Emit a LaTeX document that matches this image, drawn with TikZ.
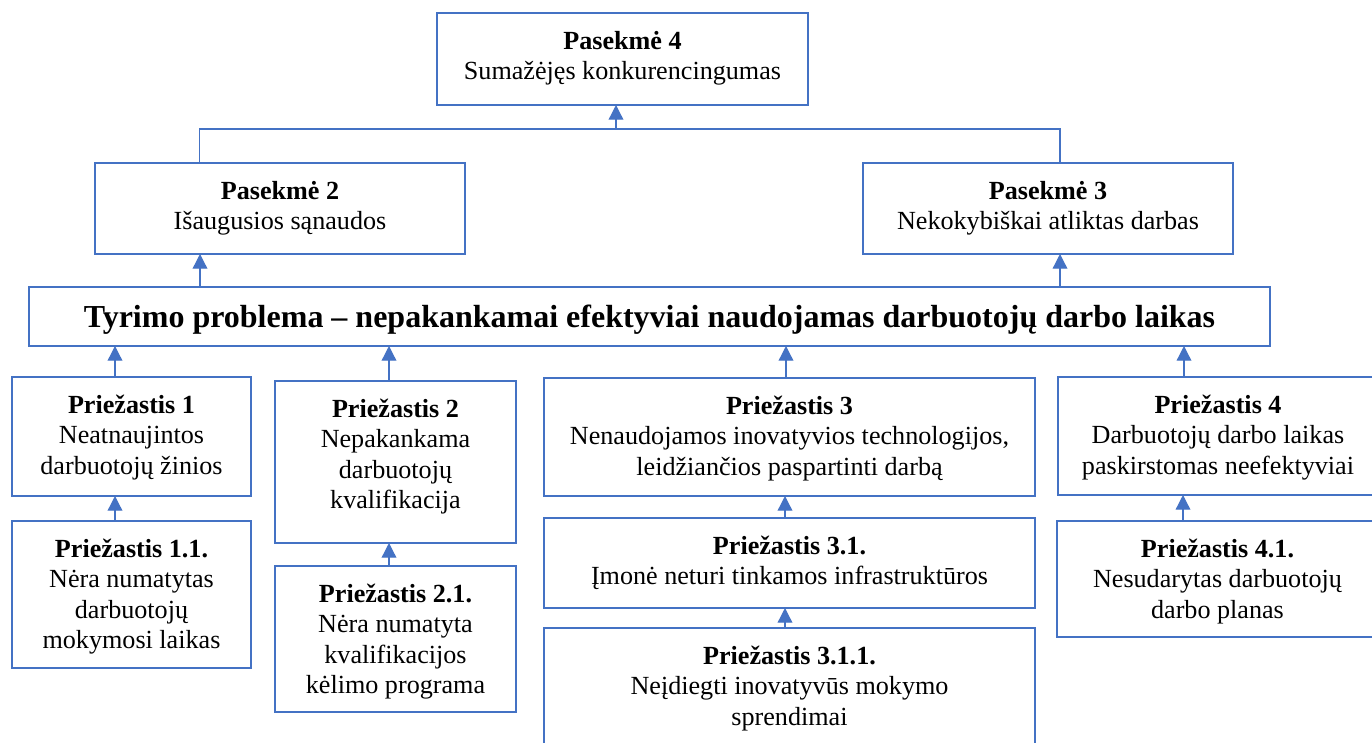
\documentclass[tikz,border=0pt]{standalone}
\usepackage{fontspec}
\setmainfont{Liberation Serif}
\usetikzlibrary{arrows.meta}
\definecolor{boxblue}{HTML}{4472C4}

\newcommand{\bodysize}{\fontsize{19.6pt}{22.9pt}\selectfont}
\newcommand{\probsize}{\fontsize{24pt}{27pt}\selectfont}
\newcommand{\boxtext}[1]{\parbox[t]{460pt}{\centering #1}}
% rectangle from (x1,y1) to (x2,y2), given in pixel units
\newcommand{\boxnode}[5]{%
  \node[box, minimum width={(#4-#2)*0.75pt}, minimum height={(#5-#3)*0.75pt}] (#1) at (#2,#3) {};}

\tikzset{
  box/.style={draw=boxblue, line width=2pt, fill=white, inner sep=0pt, outer sep=0pt, anchor=north west},
  txt/.style={inner sep=0pt, anchor=base, font=\bodysize},
  conn/.style={draw=boxblue, line width=1pt},
  arr/.style={conn, -{Triangle[length=11pt,width=11pt]}},
}

\begin{document}
\begin{tikzpicture}[x=0.75pt, y=-0.75pt]
\useasboundingbox (0,0) rectangle (1372,743);
\fill[white] (0,0) rectangle (1372,743);
\clip (0,0) rectangle (1372,743);

% consequences
\boxnode{p4}{437}{13}{808}{105}
\boxnode{p2}{95}{163}{465}{254}
\boxnode{p3}{863}{163}{1233}{254}
% research problem
\boxnode{prob}{29}{287}{1270}{346}
% causes
\boxnode{c1}{12}{377}{251}{496}
\boxnode{c2}{275}{381}{516}{543}
\boxnode{c3}{544}{378}{1035}{496}
\boxnode{c4}{1058}{377}{1378}{495}
\boxnode{c11}{12}{521}{251}{668}
\boxnode{c21}{275}{566}{516}{712}
\boxnode{c31}{544}{518}{1035}{608}
\boxnode{c311}{544}{628}{1035}{770}
\boxnode{c41}{1057}{521}{1378}{637}

% texts
\node[txt] (p4t) at ([yshift=-27pt]p4.north) {\boxtext{\textbf{Pasekmė 4}\\Sumažėjęs konkurencingumas}};
\node[txt] (p2t) at ([yshift=-27pt]p2.north) {\boxtext{\textbf{Pasekmė 2}\\Išaugusios sąnaudos}};
\node[txt] (p3t) at ([yshift=-27pt]p3.north) {\boxtext{\textbf{Pasekmė 3}\\Nekokybiškai atliktas darbas}};
\node[txt, font=\probsize] (probt) at ([yshift=-30pt]prob.north) {\textbf{Tyrimo problema – nepakankamai efektyviai naudojamas darbuotojų darbo laikas}};
\node[txt] (c1t) at ([yshift=-27pt]c1.north) {\boxtext{\textbf{Priežastis 1}\\Neatnaujintos\\darbuotojų žinios}};
\node[txt] (c2t) at ([yshift=-27pt]c2.north) {\boxtext{\textbf{Priežastis 2}\\Nepakankama\\darbuotojų\\kvalifikacija}};
\node[txt] (c3t) at ([yshift=-27pt]c3.north) {\boxtext{\textbf{Priežastis 3}\\Nenaudojamos inovatyvios technologijos,\\leidžiančios paspartinti darbą}};
\node[txt] (c4t) at ([yshift=-27pt]c4.north) {\boxtext{\textbf{Priežastis 4}\\Darbuotojų darbo laikas\\paskirstomas neefektyviai}};
\node[txt] (c11t) at ([yshift=-27pt]c11.north) {\boxtext{\textbf{Priežastis 1.1.}\\Nėra numatytas\\darbuotojų\\mokymosi laikas}};
\node[txt] (c21t) at ([yshift=-27pt]c21.north) {\boxtext{\textbf{Priežastis 2.1.}\\Nėra numatyta\\kvalifikacijos\\kėlimo programa}};
\node[txt] (c31t) at ([yshift=-27pt]c31.north) {\boxtext{\textbf{Priežastis 3.1.}\\Įmonė neturi tinkamos infrastruktūros}};
\node[txt] (c311t) at ([yshift=-27pt]c311.north) {\boxtext{\textbf{Priežastis 3.1.1.}\\Neįdiegti inovatyvūs mokymo\\sprendimai}};
\node[txt] (c41t) at ([yshift=-27pt]c41.north) {\boxtext{\textbf{Priežastis 4.1.}\\Nesudarytas darbuotojų\\darbo planas}};

% bus joining consequences 2 and 3 into consequence 4
\coordinate (bus) at (616,129);
\draw[conn] (p2.north -| 199.5,0) |- (bus) -| (p3.north -| 1060,0);
\draw[arr] (bus) -- (p4.south -| bus);

% problem to consequences
\draw[arr] (prob.north -| 200,0) -- (p2.south -| 200,0);
\draw[arr] (prob.north -| 1060,0) -- (p3.south -| 1060,0);

% causes to problem
\draw[arr] (c1.north -| 115,0) -- (prob.south -| 115,0);
\draw[arr] (c2.north -| 389,0) -- (prob.south -| 389,0);
\draw[arr] (c3.north -| 786,0) -- (prob.south -| 786,0);
\draw[arr] (c4.north -| 1184,0) -- (prob.south -| 1184,0);

% sub-causes
\draw[arr] (c11.north -| 115,0) -- (c1.south -| 115,0);
\draw[arr] (c21.north -| 389,0) -- (c2.south -| 389,0);
\draw[arr] (c31.north -| 785,0) -- (c3.south -| 785,0);
\draw[arr] (c311.north -| 785,0) -- (c31.south -| 785,0);
\draw[arr] (c41.north -| 1183,0) -- (c4.south -| 1183,0);
\end{tikzpicture}
\end{document}
